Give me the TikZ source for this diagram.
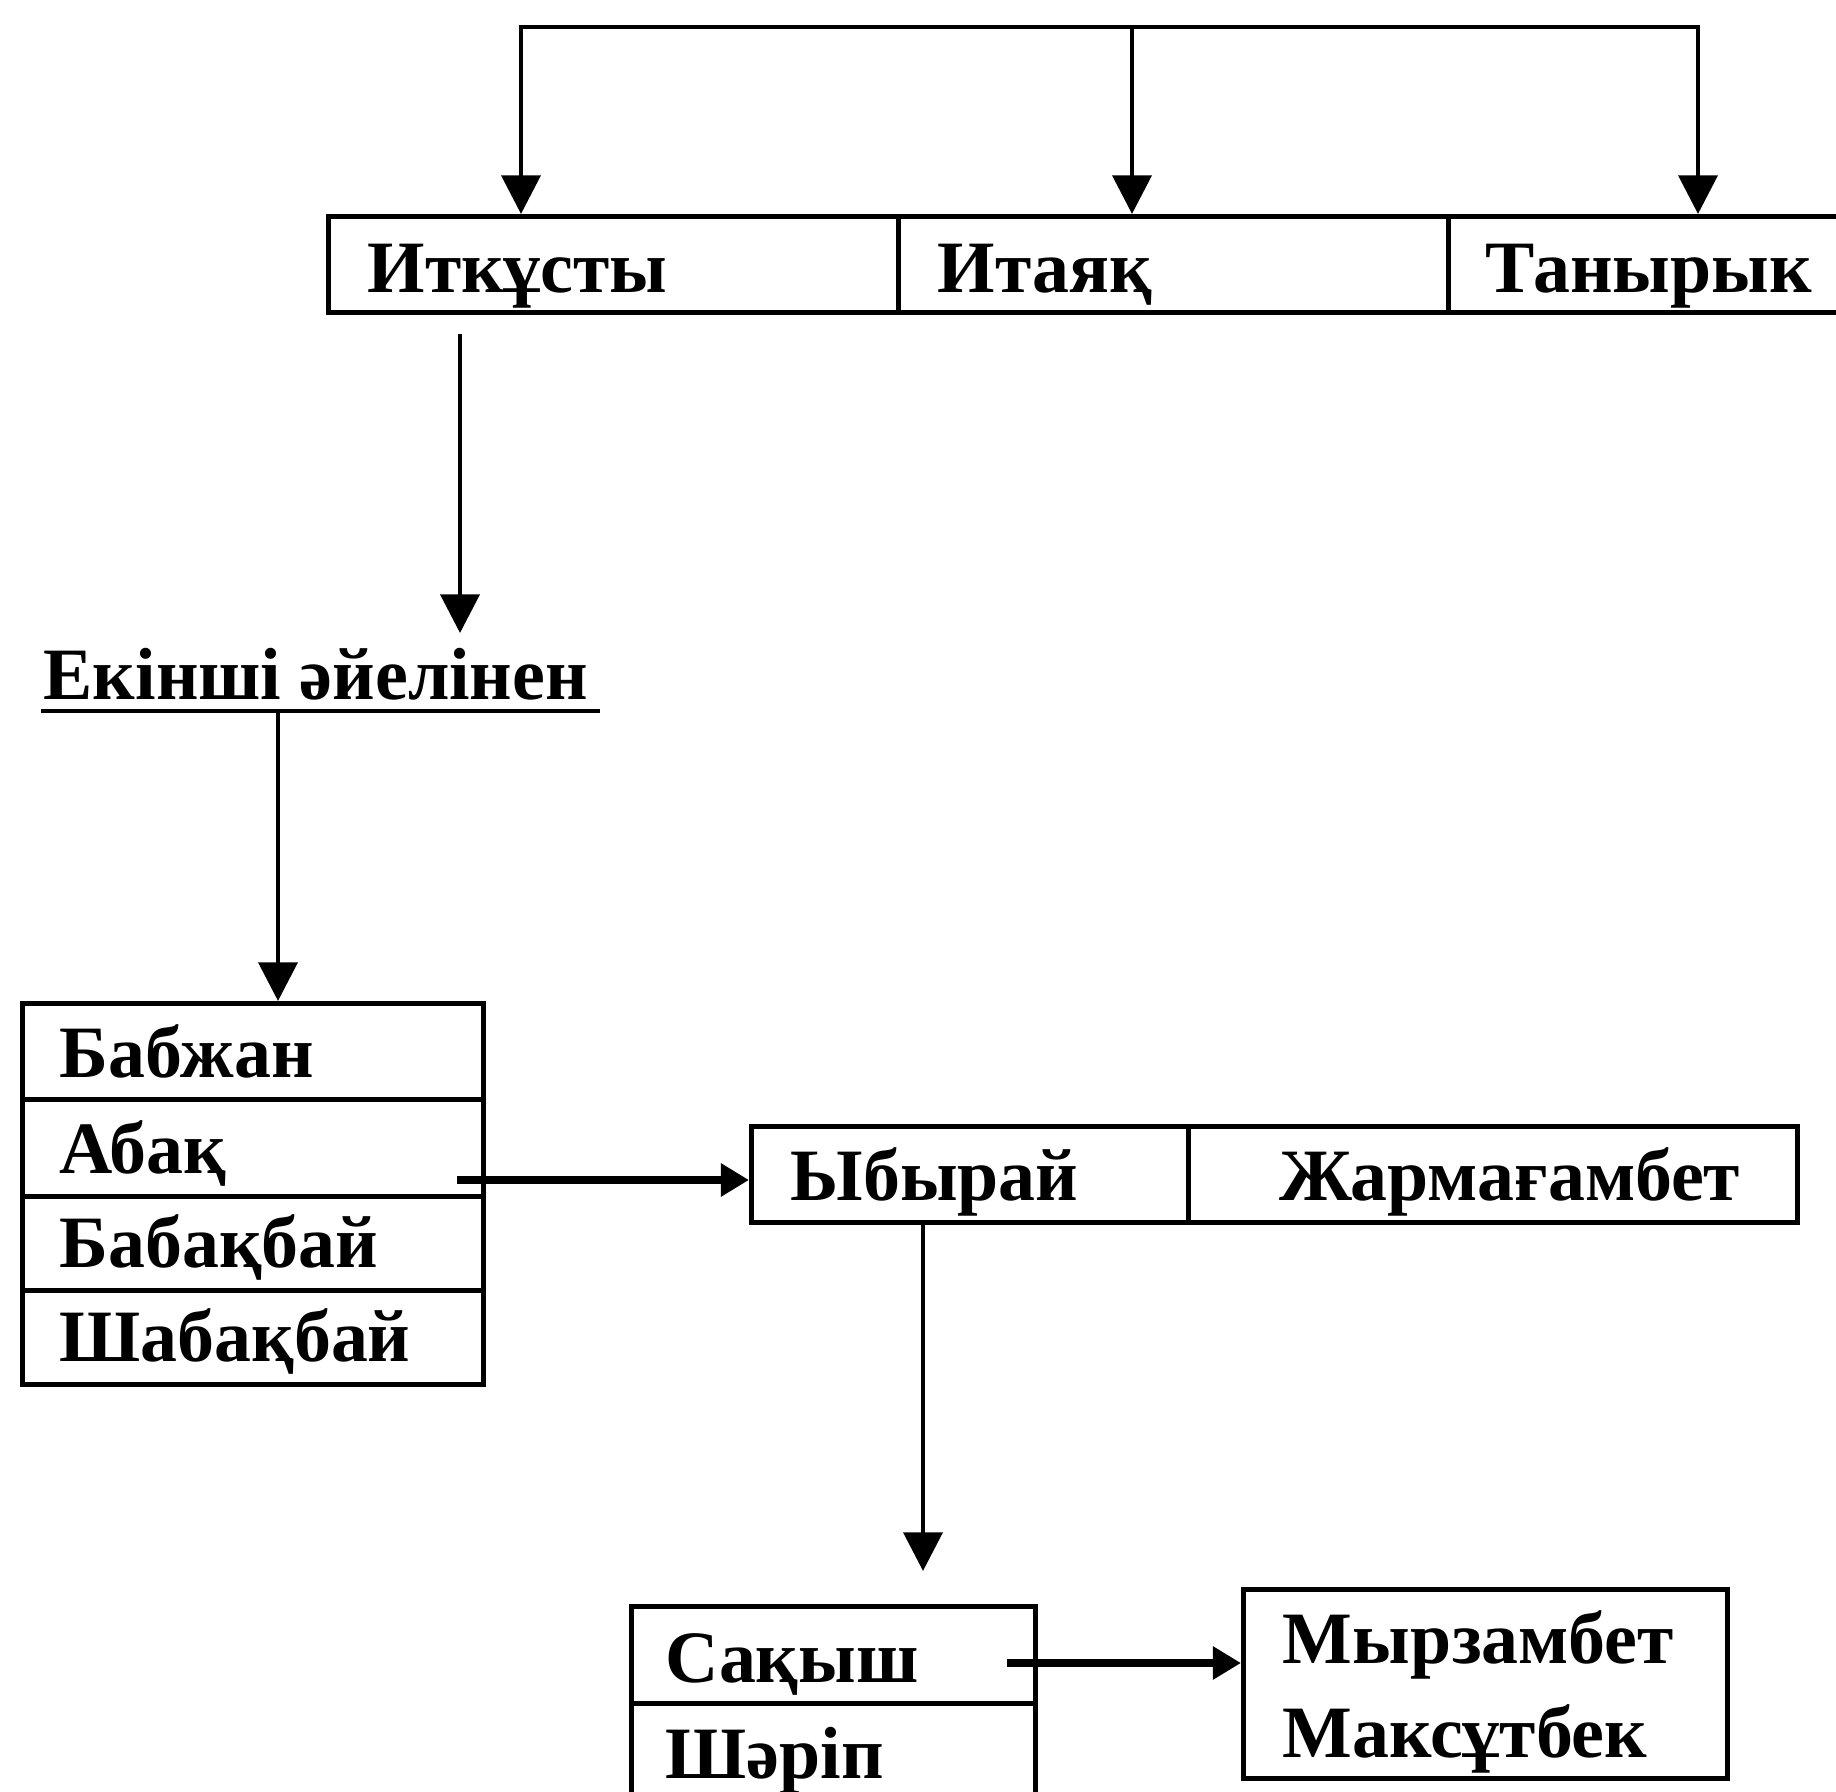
\documentclass[tikz,border=0pt]{standalone}
\usepackage{fontspec}
\setmainfont{Liberation Serif}
\usetikzlibrary{arrows.meta,calc}
\begin{document}
\begin{tikzpicture}[x=0.01cm,y=-0.01cm,
  ln/.style={line width=1.4pt},
  arr/.style={ln,-{Triangle[length=11pt,width=11pt]}},
  harr/.style={line width=2.2pt,-{Triangle[length=8pt,width=9pt]}},
  cell/.style={draw,line width=1.4pt,anchor=north west,inner sep=0pt},
  txt/.style={inner sep=0pt,anchor=base west,font=\fontsize{21}{25}\selectfont\bfseries}]
\clip (0,0) rectangle (1836,1792);
\fill[white] (0,0) rectangle (1836,1792);
% top row
\node[cell,minimum width=5.70cm,minimum height=0.96cm] (itk) at (326,214) {};
\node[cell,minimum width=5.50cm,minimum height=0.96cm] (ita) at (896,214) {};
\node[cell,minimum width=4.10cm,minimum height=0.96cm] (tan) at (1446,214) {};
\node[txt] (titk) at (367,293) {Иткұсты};
\node[txt] (tita) at (937,293) {Итаяқ};
\node[txt] (ttan) at (1485,293) {Танырык};
% label
\node[txt] (ekinshi) at (43,700) {Екінші әйелінен};
% left column
\node[cell,minimum width=4.61cm,minimum height=0.96cm] (bab) at (20,1001) {};
\node[cell,minimum width=4.61cm,minimum height=0.97cm] (aba) at (20,1097) {};
\node[cell,minimum width=4.61cm,minimum height=0.94cm] (babq) at (20,1194) {};
\node[cell,minimum width=4.61cm,minimum height=0.94cm] (shab) at (20,1288) {};
\node[txt] (tbab) at (59,1078) {Бабжан};
\node[txt] (taba) at (59,1173) {Абақ};
\node[txt] (tbabq) at (59,1267) {Бабақбай};
\node[txt] (tshab) at (59,1361) {Шабақбай};
% middle row
\node[cell,minimum width=4.37cm,minimum height=0.96cm] (yby) at (749,1124) {};
\node[cell,minimum width=6.09cm,minimum height=0.96cm] (zhar) at (1186,1124) {};
\node[txt] (tyby) at (790,1200) {Ыбырай};
\node[txt] (tzhar) at (1279,1200) {Жармағамбет};
% bottom
\node[cell,minimum width=4.04cm,minimum height=0.97cm] (saq) at (629,1604) {};
\node[cell,minimum width=4.04cm,minimum height=1.49cm] (sher) at (629,1701) {};
\node[txt] (tsaq) at (665,1682) {Сақыш};
\node[txt] (tsher) at (665,1778) {Шәріп};
\node[cell,minimum width=4.84cm,minimum height=1.89cm] (myr) at (1241,1587) {};
\node[txt] (tmyr) at (1282,1663) {Мырзамбет};
\node[txt] (tmaq) at (1282,1757) {Максұтбек};
% connectors
\coordinate (t1) at (521,27);
\coordinate (t2) at (1132,27);
\coordinate (t3) at (1698,27);
\draw[ln] ([xshift=-0.7pt]t1) -- ([xshift=0.7pt]t3);
\draw[arr] (t1) -- (t1 |- itk.north);
\draw[arr] (t2) -- (t2 |- ita.north);
\draw[arr] (t3) -- (t3 |- tan.north);
\coordinate (d1) at (460,334);
\draw[arr,shorten >=0.15cm] (d1) -- (d1 |- ekinshi.north);
\coordinate (u1) at (41,711);
\coordinate (u2) at (600,711);
\draw[ln] (u1) -- (u2);
\coordinate (u3) at (278,711);
\draw[arr] (u3) -- (u3 |- bab.north);
\coordinate (a2) at (457,1180);
\draw[harr] (a2) -- (a2 -| yby.west);
\coordinate (a3) at (923,0);
\draw[arr,shorten >=0.33cm] (a3 |- yby.south) -- (a3 |- saq.north);
\coordinate (a4) at (1007,1663);
\draw[harr] (a4) -- (a4 -| myr.west);
\end{tikzpicture}
\end{document}
